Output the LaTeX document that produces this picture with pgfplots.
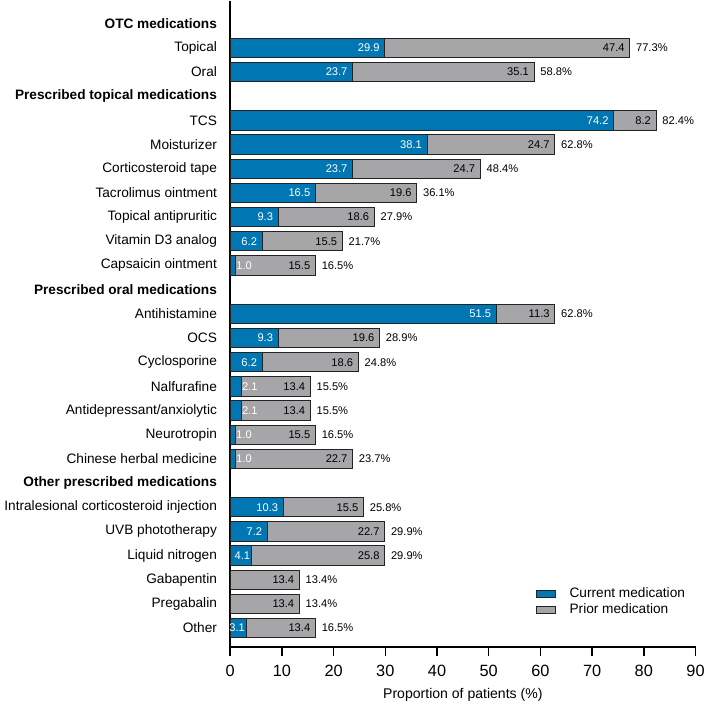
\documentclass[border=0pt]{standalone}
\usepackage{pgfplots}
\pgfplotsset{compat=1.18}
\usepackage{pgfplotstable}
\usepackage{fontspec}
\setmainfont{Liberation Sans}

\definecolor{curblue}{RGB}{0,119,178}
\definecolor{priorgray}{RGB}{166,166,169}
\definecolor{edge}{RGB}{35,35,35}

% row index (0 = top), current, prior, total
\pgfplotstableread{
y  cur   prior total
1  29.9  47.4  77.3
2  23.7  35.1  58.8
4  74.2  8.2   82.4
5  38.1  24.7  62.8
6  23.7  24.7  48.4
7  16.5  19.6  36.1
8  9.3   18.6  27.9
9  6.2   15.5  21.7
10 1.0   15.5  16.5
12 51.5  11.3  62.8
13 9.3   19.6  28.9
14 6.2   18.6  24.8
15 2.1   13.4  15.5
16 2.1   13.4  15.5
17 1.0   15.5  16.5
18 1.0   22.7  23.7
20 10.3  15.5  25.8
21 7.2   22.7  29.9
22 4.1   25.8  29.9
23 0     13.4  13.4
24 0     13.4  13.4
25 3.1   13.4  16.5
}\meds

\begin{document}
\begin{tikzpicture}
\begin{axis}[
    scale only axis,
    width=351pt, height=487.5pt,
    xmin=0, xmax=90,
    ymin=-0.95, ymax=25.78,
    y dir=reverse,
    axis x line*=bottom,
    axis y line*=left,
    axis line style={line width=1.1pt, black},
    tick align=outside,
    major tick length=6.5pt,
    xtick={0,10,...,90},
    xtick style={line width=1.1pt, black},
    ytick={0,...,25},
    ytick style={draw=none},
    yticklabels={
        \textbf{OTC medications}, Topical, Oral,
        \textbf{Prescribed topical medications}, TCS, Moisturizer,
        Corticosteroid tape, Tacrolimus ointment, Topical antipruritic,
        Vitamin D3 analog, Capsaicin ointment,
        \textbf{Prescribed oral medications}, Antihistamine, OCS,
        Cyclosporine, Nalfurafine, Antidepressant/anxiolytic, Neurotropin,
        Chinese herbal medicine,
        \textbf{Other prescribed medications},
        Intralesional corticosteroid injection, UVB phototherapy,
        Liquid nitrogen, Gabapentin, Pregabalin, Other},
    y tick label style={font=\fontsize{10.3}{12}\selectfont},
    x tick label style={font=\fontsize{12.3}{14}\selectfont, yshift=-3.5pt},
    /pgf/number format/assume math mode=true,
    xlabel={Proportion of patients (\%)},
    xlabel style={font=\fontsize{10.6}{12}\selectfont, yshift=-2pt},
    bar width=0.8,
    bar shift=0pt,
    clip=false,
    legend style={
        draw=none, fill=none,
        at={(0.647,0.100)}, anchor=north west,
        font=\fontsize{10.3}{12}\selectfont,
        row sep=-1pt,
        legend cell align=left,
    },
    legend image code/.code={
        \draw[#1] (0pt,-2.6pt) rectangle (15pt,2.6pt);
        \path (23pt,0pt);
    },
]

% grey bars run from 0 to the total, blue bars sit on top
\addplot[xbar, fill=priorgray, draw=edge, line width=0.75pt, forget plot]
    table[x=total, y=y] {\meds};
\addplot[xbar, fill=curblue, draw=edge, line width=0.75pt, forget plot,
    restrict x to domain=0.01:100]
    table[x=cur, y=y] {\meds};

% values inside the blue part
\addplot[draw=none, mark=none, forget plot,
    restrict x to domain=5:100,
    point meta=explicit symbolic,
    nodes near coords,
    nodes near coords style={anchor=east, text=white, inner sep=3.8pt,
        font=\fontsize{8.4}{10}\selectfont}]
    table[x=cur, y=y, meta=cur] {\meds};
\addplot[draw=none, mark=none, forget plot,
    restrict x to domain=3:5,
    point meta=explicit symbolic,
    nodes near coords,
    nodes near coords style={anchor=east, text=white, inner sep=0.8pt,
        font=\fontsize{8.4}{10}\selectfont}]
    table[x=cur, y=y, meta=cur] {\meds};
\addplot[draw=none, mark=none, forget plot,
    restrict x to domain=0.5:2.9,
    point meta=explicit symbolic,
    nodes near coords,
    nodes near coords style={anchor=west, text=white, inner sep=0.5pt,
        font=\fontsize{8.4}{10}\selectfont}]
    table[x=cur, y=y, meta=cur] {\meds};

% values inside the grey part
\addplot[draw=none, mark=none, forget plot,
    point meta=explicit symbolic,
    nodes near coords,
    nodes near coords style={anchor=east, text=black, inner sep=3.8pt,
        font=\fontsize{8.4}{10}\selectfont}]
    table[x=total, y=y, meta=prior] {\meds};

% totals
\addplot[draw=none, mark=none, forget plot,
    point meta=explicit symbolic,
    nodes near coords={\pgfplotspointmeta\%},
    nodes near coords style={anchor=west, text=black, inner sep=4.5pt,
        font=\fontsize{8.4}{10}\selectfont}]
    table[x=total, y=y, meta=total] {\meds};

\addlegendimage{fill=curblue, draw=edge, line width=0.75pt}
\addlegendentry{Current medication}
\addlegendimage{fill=priorgray, draw=edge, line width=0.75pt}
\addlegendentry{Prior medication}

\end{axis}
\end{tikzpicture}
\end{document}
